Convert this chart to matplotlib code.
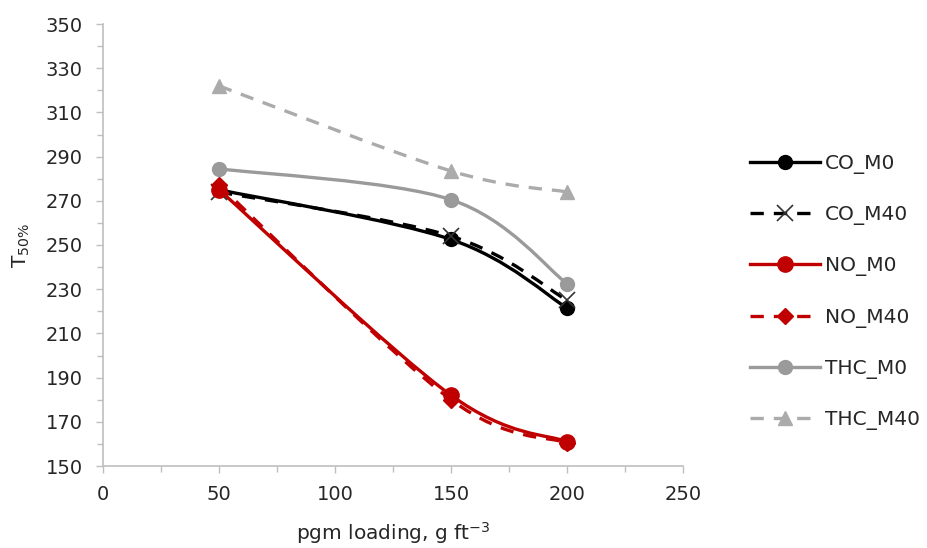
import numpy as np
import matplotlib
matplotlib.use("Agg")
import matplotlib.pyplot as plt
from matplotlib.path import Path
from matplotlib.patches import PathPatch
from matplotlib.lines import Line2D
from matplotlib.ticker import MultipleLocator, FixedLocator

# pgm loading (g ft^-3)
loading = [50, 150, 200]

# T50% values
co_m0 = [275, 252.5, 221.5]
co_m40 = [274, 254, 225]
no_m0 = [275, 182, 161]
no_m40 = [277, 180, 160.5]
thc_m0 = [284.5, 270.5, 232.5]
thc_m40 = [322, 283.5, 274]

labels = ["CO_M0", "CO_M40", "NO_M0", "NO_M40", "THC_M0", "THC_M40"]
yticks = [150, 170, 190, 210, 230, 250, 270, 290, 310, 330, 350]

RED = "#C00000"
GREY = "#9A9A9A"
LGREY = "#ABABAB"
TXT = "#262626"
DASH = (0, (4, 3))

styles = [
    dict(color="black", ls="-", marker="o", ms=10, mfc="black", mec="black"),
    dict(color="black", ls=DASH, marker="x", ms=11, mfc="none", mec="#333333"),
    dict(color=RED, ls="-", marker="o", ms=11, mfc=RED, mec=RED),
    dict(color=RED, ls=DASH, marker="D", ms=8, mfc=RED, mec=RED),
    dict(color=GREY, ls="-", marker="o", ms=10, mfc=GREY, mec=GREY),
    dict(color=LGREY, ls=DASH, marker="^", ms=10, mfc=LGREY, mec=LGREY),
]
series = [co_m0, co_m40, no_m0, no_m40, thc_m0, thc_m40]


def smooth_path(xs, ys, t=1/6):
    """Excel-like smoothed line as cubic Bezier segments"""
    p = np.column_stack([xs, ys]).astype(float)
    n = len(p)
    verts = [p[0]]
    codes = [Path.MOVETO]
    for i in range(n - 1):
        p0 = p[i - 1] if i > 0 else p[i]
        p3 = p[i + 2] if i + 2 < n else p[i + 1]
        c1 = p[i] + (p[i + 1] - p0) * t
        c2 = p[i + 1] - (p3 - p[i]) * t
        verts += [c1, c2, p[i + 1]]
        codes += [Path.CURVE4] * 3
    return Path(verts, codes)


fig = plt.figure(figsize=(9.27, 5.48), dpi=100)
ax = fig.add_axes([103/927, 82/548, 580/927, 442/548])

lw = 2.4
handles = []
for ys, st, lab in zip(series, styles, labels):
    patch = PathPatch(smooth_path(loading, ys), fill=False, edgecolor=st["color"],
                      lw=lw, linestyle=st["ls"], capstyle="butt")
    ax.add_patch(patch)
    mew = 1.2 if st["marker"] == "x" else 1
    ax.plot(loading, ys, ls="none", marker=st["marker"], ms=st["ms"],
            mfc=st["mfc"], mec=st["mec"], mew=mew, zorder=3)
    handles.append(Line2D([], [], color=st["color"], ls=st["ls"], lw=lw,
                          marker=st["marker"], ms=st["ms"], mfc=st["mfc"],
                          mec=st["mec"], mew=mew))

ax.set_xlim(0, 250)
ax.set_ylim(150, 350)
ax.xaxis.set_major_locator(MultipleLocator(50))
ax.xaxis.set_minor_locator(MultipleLocator(25))
ax.yaxis.set_major_locator(FixedLocator(yticks))
ax.yaxis.set_minor_locator(MultipleLocator(10))
for s in ["top", "right"]:
    ax.spines[s].set_visible(False)
for s in ["left", "bottom"]:
    ax.spines[s].set_color("#BFBFBF")
    ax.spines[s].set_linewidth(1.2)
ax.tick_params(which="both", color="#BFBFBF", labelcolor=TXT, labelsize=14)
ax.tick_params(which="major", length=5, width=1)
ax.tick_params(which="minor", length=4, width=1)
ax.tick_params(axis="y", pad=9.5)
ax.tick_params(axis="x", pad=9)

ax.set_ylabel(r"T$_{50\%}$", fontsize=14.5, color=TXT)
ax.yaxis.set_label_coords(-0.123, 0.5)
ax.set_xlabel(r"pgm loading, g ft$^{-3}$", fontsize=14.5, color=TXT, labelpad=11)

fig.legend(handles, labels, loc="center left", bbox_to_anchor=(750/927, 1 - 292/548),
           frameon=False, fontsize=14.5, handlelength=3.5, handletextpad=0.2,
           labelspacing=1.55, labelcolor=TXT, borderaxespad=0, borderpad=0)

fig.savefig("out.png", dpi=100)
